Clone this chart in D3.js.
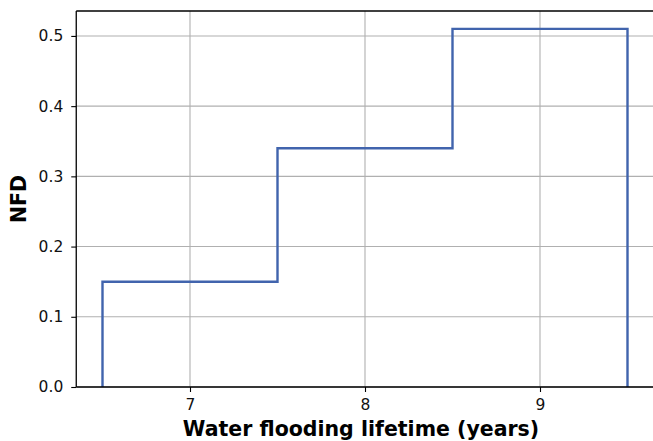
<!DOCTYPE html>
<html>
<head>
<meta charset="utf-8">
<script src="https://cdn.jsdelivr.net/npm/d3@7"></script>
<style>
  html, body { margin: 0; padding: 0; background: #fff; }
  svg { display: block; font-family: "DejaVu Sans", sans-serif; }
</style>
</head>
<body>
<svg id="chart" width="653" height="441"></svg>
<script>
// Histogram bins (bin centres, in years) and normalised frequency per bin
const binCenters = [7, 8, 9];
const nfdValues = [0.15, 0.34, 0.51];
const xTickValues = [7, 8, 9];
const yTickValues = [0.0, 0.1, 0.2, 0.3, 0.4, 0.5];
const xLabel = "Water flooding lifetime (years)";
const yLabel = "NFD";

const svg = d3.select("#chart");
const plot = { left: 76.25, right: 653.75, top: 11, bottom: 387 };

const binWidth = 1;
const edges = binCenters.map(c => c - binWidth / 2).concat([binCenters[binCenters.length - 1] + binWidth / 2]);
const xSpan = edges[edges.length - 1] - edges[0];
const yMax = d3.max(nfdValues) * 1.05;

const x = d3.scaleLinear()
  .domain([edges[0] - 0.05 * xSpan, edges[edges.length - 1] + 0.05 * xSpan])
  .range([plot.left, plot.right]);
const y = d3.scaleLinear().domain([0, yMax]).range([plot.bottom, plot.top]);

// grid
const grid = svg.append("g").attr("stroke", "#b0b0b0").attr("stroke-width", 1.1);
xTickValues.forEach(v => grid.append("line")
  .attr("x1", x(v)).attr("x2", x(v)).attr("y1", plot.top).attr("y2", plot.bottom));
yTickValues.forEach(v => grid.append("line")
  .attr("x1", plot.left).attr("x2", plot.right).attr("y1", y(v)).attr("y2", y(v)));

// step outline of histogram
const pts = [[edges[0], 0]];
nfdValues.forEach((v, i) => { pts.push([edges[i], v]); pts.push([edges[i + 1], v]); });
pts.push([edges[edges.length - 1], 0]);
svg.append("path")
  .attr("d", d3.line().x(d => x(d[0])).y(d => y(d[1]))(pts))
  .attr("fill", "none")
  .attr("stroke", "#4164ad")
  .attr("stroke-width", 2.4)
  .attr("stroke-linejoin", "miter");

// axes
const xAxis = svg.append("g").attr("transform", `translate(0,${plot.bottom})`)
  .call(d3.axisBottom(x).tickValues(xTickValues).tickFormat(d3.format("d")).tickSizeOuter(0).tickSize(5).tickPadding(7));
const yAxis = svg.append("g").attr("transform", `translate(${plot.left},0)`)
  .call(d3.axisLeft(y).tickValues(yTickValues).tickFormat(d3.format(".1f")).tickSizeOuter(0).tickSize(5).tickPadding(8));
[xAxis, yAxis].forEach(a => {
  a.attr("font-size", 15.5).attr("font-family", "DejaVu Sans, sans-serif");
  a.select(".domain").remove();
  a.selectAll(".tick line").attr("stroke", "#000").attr("stroke-width", 1.1);
  a.selectAll(".tick text").attr("fill", "#111");
});

// spines
const spines = svg.append("g").attr("stroke", "#000").attr("stroke-width", 1.3).attr("fill", "none");
spines.append("line").attr("x1", plot.left).attr("x2", plot.left).attr("y1", plot.top).attr("y2", plot.bottom);
spines.append("line").attr("x1", plot.left).attr("x2", plot.right).attr("y1", plot.bottom).attr("y2", plot.bottom);
spines.append("line").attr("x1", plot.left).attr("x2", plot.right).attr("y1", plot.top).attr("y2", plot.top);
spines.append("line").attr("x1", plot.right).attr("x2", plot.right).attr("y1", plot.top).attr("y2", plot.bottom);

// labels
svg.append("text")
  .attr("x", (plot.left + plot.right) / 2 - 4).attr("y", 436)
  .attr("text-anchor", "middle").attr("font-size", 20.5).attr("font-weight", "bold")
  .text(xLabel);
svg.append("text")
  .attr("transform", `translate(26,${(plot.top + plot.bottom) / 2}) rotate(-90)`)
  .attr("text-anchor", "middle").attr("font-size", 20.5).attr("font-weight", "bold")
  .text(yLabel);
</script>
</body>
</html>
